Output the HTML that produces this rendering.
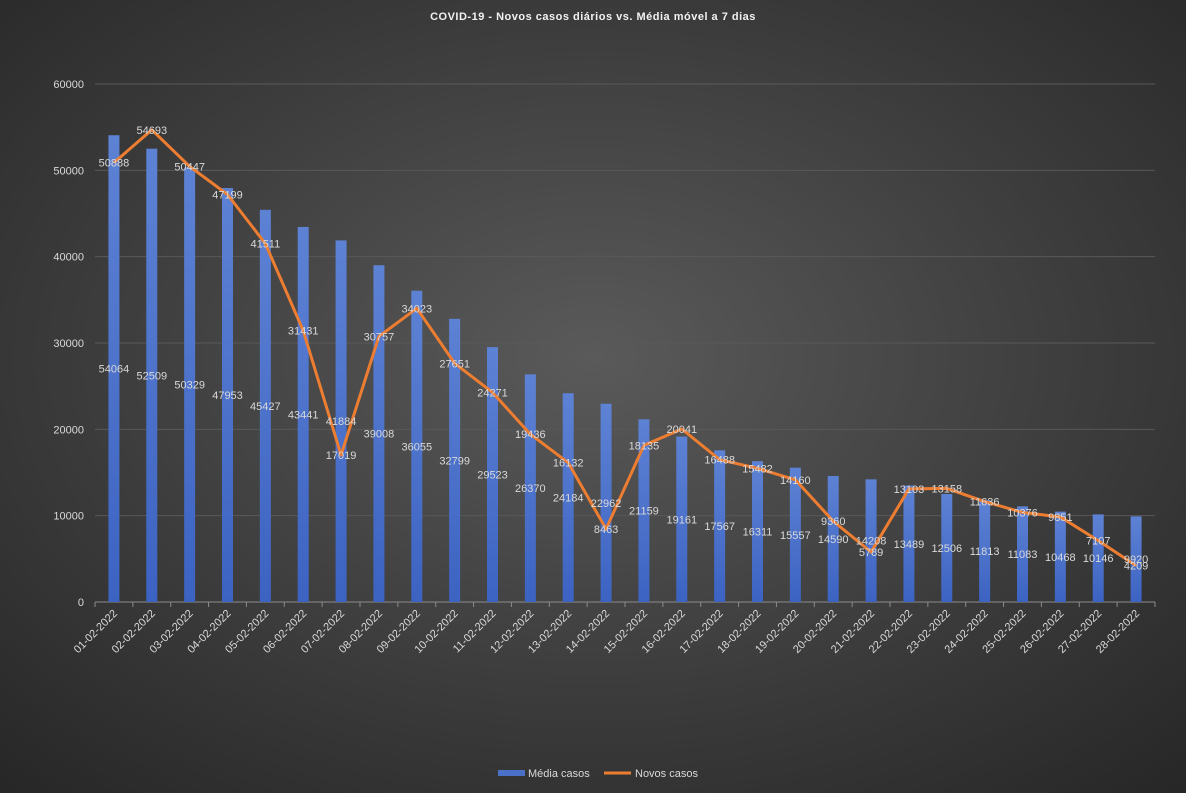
<!DOCTYPE html>
<html><head><meta charset="utf-8"><style>
html,body{margin:0;padding:0;}
body{width:1186px;height:793px;overflow:hidden;background:radial-gradient(ellipse 75% 75% at 50% 45%,#5a5a5a 0%,#3a3a3a 60%,#262626 100%);font-family:"Liberation Sans",sans-serif;}
svg{position:absolute;left:0;top:0}
</style></head><body>
<svg id="c" width="1186" height="793" xmlns="http://www.w3.org/2000/svg">
<defs><linearGradient id="bg" x1="0" y1="0" x2="0" y2="1"><stop offset="0" stop-color="#5d82d4"/><stop offset="1" stop-color="#3c63c2"/></linearGradient></defs>
<text x="593" y="20" text-anchor="middle" fill="#f2f2f2" font-size="11" font-weight="bold" letter-spacing="0.5">COVID-19  - Novos casos diários  vs. Média  móvel  a 7 dias</text>
<g id="g"></g>
</svg>
<script>
var bars=[54064,52509,50329,47953,45427,43441,41884,39008,36055,32799,29523,26370,24184,22962,21159,19161,17567,16311,15557,14590,14208,13489,12506,11813,11083,10468,10146,9920];
var line=[50888,54693,50447,47199,41511,31431,17019,30757,34023,27651,24271,19436,16132,8463,18135,20041,16488,15482,14160,9360,5789,13103,13158,11636,10376,9851,7107,4209];
var x0=95,x1=1155,y0=602,k=518/60000,w=(x1-x0)/28,s='';
function Y(v){return y0-v*k;}
for(var i=1;i<=6;i++){var y=Y(i*10000);s+='<line x1="'+x0+'" x2="'+x1+'" y1="'+y+'" y2="'+y+'" stroke="#595959" stroke-width="1"/>';}
for(var i=0;i<=6;i++){s+='<text x="84" y="'+(Y(i*10000)+4)+'" text-anchor="end" fill="#d9d9d9" font-size="11">'+(i*10000)+'</text>';}
s+='<line x1="'+x0+'" x2="'+x1+'" y1="'+y0+'" y2="'+y0+'" stroke="#8c8c8c"/>';
for(var i=0;i<=28;i++){var x=x0+i*w;s+='<line x1="'+x+'" x2="'+x+'" y1="'+y0+'" y2="'+(y0+5)+'" stroke="#8c8c8c"/>';}
var pts=[];
for(var i=0;i<28;i++){var cx=x0+w*(i+0.5);
s+='<rect x="'+(cx-5.5)+'" y="'+Y(bars[i])+'" width="11" height="'+(bars[i]*k)+'" fill="url(#bg)"/>';
pts.push(cx+','+Y(line[i]));
var d=(i+1<10?'0':'')+(i+1)+'-02-2022';
s+='<text transform="translate('+(cx+4)+','+(y0+12)+') rotate(-45)" text-anchor="end" fill="#d9d9d9" font-size="11">'+d+'</text>';}
s+='<polyline points="'+pts.join(' ')+'" fill="none" stroke="#ed7d31" stroke-width="3" stroke-linejoin="round"/>';
for(var i=0;i<28;i++){var cx=x0+w*(i+0.5);
s+='<text x="'+cx+'" y="'+(Y(bars[i]/2)+4)+'" text-anchor="middle" fill="#d9d9d9" font-size="11">'+bars[i]+'</text>';
s+='<text x="'+cx+'" y="'+(Y(line[i])+4)+'" text-anchor="middle" fill="#d9d9d9" font-size="11">'+line[i]+'</text>';}
s+='<rect x="498" y="770" width="27" height="6" fill="#4a70c8"/><text x="528" y="777" fill="#d9d9d9" font-size="11">Média casos</text>';
s+='<line x1="604" x2="631" y1="773" y2="773" stroke="#ed7d31" stroke-width="3"/><text x="635" y="777" fill="#d9d9d9" font-size="11">Novos casos</text>';
document.getElementById('g').innerHTML=s;
</script>
</body></html>
